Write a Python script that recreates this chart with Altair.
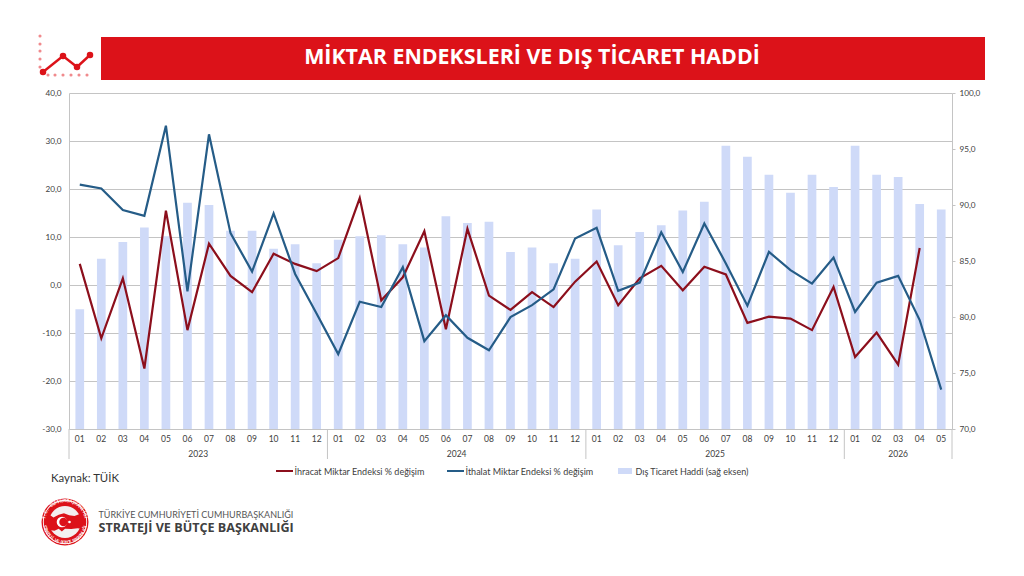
import math
import altair as alt
import pandas as pd

months = [f"{y}-{m:02d}" for y in (2023, 2024, 2025) for m in range(1, 13)] + [f"2026-{m:02d}" for m in range(1, 6)]

ihracat = [4.4, -11.1, 1.4, -17.4, 15.5, -9.4, 8.6, 1.9, -1.5, 6.5, 4.4, 2.9,
           5.6, 18.1, -3.2, 1.6, 11.2, -9.2, 11.7, -2.2, -5.2, -1.5, -4.6, 0.7,
           4.9, -4.2, 1.4, 4.0, -1.1, 3.8, 2.2, -7.9, -6.6, -7.0, -9.4, -0.4,
           -15.0, -9.9, -16.6, 7.7, None]
ithalat = [20.9, 20.1, 15.6, 14.4, 33.2, -1.3, 31.4, 10.8, 2.8, 14.9, 2.3, -6.0,
           -14.4, -3.5, -4.6, 3.7, -11.7, -6.3, -11.0, -13.6, -6.7, -4.2, -0.9, 9.7,
           11.9, -1.2, 0.5, 11.0, 2.7, 12.8, 4.5, -4.3, 6.9, 3.1, 0.3, 5.7,
           -5.6, 0.5, 1.9, -7.3, -21.8]
ticaret = [80.7, 85.2, 86.7, 88.0, 87.2, 90.2, 90.0, 87.7, 87.7, 86.1, 86.5, 84.8,
           86.9, 87.2, 87.3, 86.5, 86.2, 89.0, 88.4, 88.5, 85.8, 86.2, 84.8, 85.2,
           89.6, 86.4, 87.6, 88.2, 89.5, 90.3, 95.3, 94.3, 92.7, 91.1, 92.7, 91.6,
           95.3, 92.7, 92.5, 90.1, 89.6]

year_labels = ["2023", "2024", "2025", "2026"]
year_anchor = ["2023-06", "2024-06", "2025-06", "2026-03"]
year_shift = [1, 1, 1, 0.5]
separators = ["2024-01", "2025-01", "2026-01"]

TITLE = "MİKTAR ENDEKSLERİ VE DIŞ TİCARET HADDİ"
SERIES = ["İhracat Miktar Endeksi % değişim", "İthalat Miktar Endeksi % değişim", "Dış Ticaret Haddi (sağ eksen)"]

RED, BLUE, BAR, BANNER, GRID, TXT = "#8c0f1c", "#255c87", "#cfdaf8", "#dc1219", "#c4c4c4", "#404040"
PW, PH = 883, 336
OX, OY = 69, 93
BAND = PW / 41
FONT = "Lato"
TURKEY = ("M-1,-0.25 L-0.85,-0.38 L-0.7,-0.32 L-0.55,-0.22 L-0.3,-0.35 L-0.05,-0.42 L0.2,-0.32 L0.45,-0.28 "
          "L0.7,-0.38 L0.95,-0.3 L1,-0.05 L0.9,0.2 L0.95,0.35 L0.6,0.3 L0.3,0.33 L0,0.32 L-0.15,0.45 L-0.3,0.32 "
          "L-0.5,0.42 L-0.75,0.38 L-0.9,0.22 L-0.95,0 Z")

df = pd.DataFrame({"ay": months, "ihracat": ihracat, "ithalat": ithalat, "ticaret": ticaret})
xscale = alt.Scale(type="band", domain=months, paddingInner=0, paddingOuter=0)
one = alt.Data(values=[{"a": 1}])

def X(px): return alt.value(px - OX)
def Y(py): return alt.value(py - OY)

def rect(x0, y0, x1, y1, color, **kw):
    return alt.Chart(one).mark_rect(color=color, **kw).encode(x=X(x0), x2=X(x1), y=Y(y0), y2=Y(y1))
def seg(x0, y0, x1, y1, color, w):
    return alt.Chart(one).mark_rule(color=color, strokeWidth=w).encode(x=X(x0), x2=X(x1), y=Y(y0), y2=Y(y1))
def dot(x, y, size, color):
    return alt.Chart(one).mark_circle(color=color, size=size, opacity=1).encode(x=X(x), y=Y(y))
def text(x, y, s, size, color=TXT, align="left", weight="normal", font=FONT, angle=0):
    return alt.Chart(alt.Data(values=[{"t": s}])).mark_text(
        align=align, baseline="middle", fontSize=size, color=color, fontWeight=weight, font=font, angle=angle
    ).encode(x=X(x), y=Y(y), text="t:N")

bars = alt.Chart(df).mark_bar(size=8.7, color=BAR).encode(
    x=alt.X("ay:N", scale=xscale, axis=alt.Axis(
        title=None, labelExpr="slice(datum.value, 5)", labelAngle=0, labelFont=FONT, labelFontSize=8.5,
        labelColor=TXT, labelPadding=5, tickSize=0, domain=True, domainColor=GRID, grid=False)),
    y=alt.Y("ticaret:Q", scale=alt.Scale(domain=[70, 100], zero=False), axis=alt.Axis(
        orient="right", title=None, values=[70, 75, 80, 85, 90, 95, 100], grid=False,
        labelExpr="replace(format(datum.value, '.1f'), '.', ',')", labelFont=FONT, labelFontSize=8.2,
        labelColor=TXT, tickColor=GRID, tickSize=3, labelPadding=4, domainColor=GRID)),
    y2=alt.datum(70),
)

yleft = alt.Y("v:Q", scale=alt.Scale(domain=[-30, 40]), axis=alt.Axis(
    orient="left", title=None, values=list(range(-30, 50, 10)), grid=True, gridColor=GRID, gridWidth=1.1,
    labelExpr="replace(replace(format(datum.value, '.1f'), '.', ','), '−', '-')", labelFont=FONT,
    labelFontSize=8.2, labelColor=TXT, tickSize=0, labelPadding=8, domainColor=GRID))
long = pd.DataFrame({"ay": months * 2, "v": ihracat + ithalat,
                     "seri": [SERIES[0]] * 41 + [SERIES[1]] * 41}).dropna()
lines = alt.Chart(long).mark_line(strokeWidth=2.2, strokeJoin="miter").encode(
    x=alt.X("ay:N", scale=xscale),
    y=yleft,
    color=alt.Color("seri:N", scale=alt.Scale(domain=SERIES[:2], range=[RED, BLUE]), legend=None),
)

data_layer = alt.layer(bars, lines).resolve_scale(y="independent")

years = pd.DataFrame({"ay": year_anchor, "t": year_labels, "d": [s * BAND for s in year_shift]})
year_text = alt.Chart(years).mark_text(fontSize=8.5, font=FONT, color=TXT, baseline="middle").encode(
    x=alt.X("ay:N", scale=xscale), xOffset=alt.XOffset("d:Q", scale=None), y=alt.value(454 - OY), text="t:N")
seps = alt.Chart(pd.DataFrame({"ay": separators, "d": [0] * 3})).mark_rule(color=GRID, strokeWidth=1).encode(
    x=alt.X("ay:N", scale=xscale), xOffset=alt.XOffset("d:Q", scale=None), y=alt.value(PH), y2=alt.value(459 - OY))

deco = [
    seg(OX, 429, OX, 459, GRID, 1), seg(OX + PW, 429, OX + PW, 459, GRID, 1),
    rect(101, 37, 985, 80, BANNER),
    text(532, 57.5, TITLE, 21.4, color="white", align="center", weight="bold", font="Open Sans"),
    seg(276, 471, 293, 471, RED, 2), text(294.5, 471.5, SERIES[0], 9.0),
    seg(447, 471, 464, 471, BLUE, 2), text(465.5, 471.5, SERIES[1], 9.0),
    rect(618, 468, 632, 474, BAR), text(635.5, 471.5, SERIES[2], 9.0),
    text(51, 479, "Kaynak: TÜİK", 11.4, color="#333333"),
    text(98.5, 514.5, "TÜRKİYE CUMHURİYETİ CUMHURBAŞKANLIĞI", 9.0, color="#555555"),
    text(98.5, 527.5, "STRATEJİ VE BÜTÇE BAŞKANLIĞI", 12.6, color="#404040", weight="bold", font="Open Sans"),
]
# small chart icon
for y in (36, 44, 51, 59, 67):
    deco.append(dot(40, y, 10, "#f08a8d"))
for x in (48, 55, 63, 71, 79, 87):
    deco.append(dot(x, 75, 10, "#f08a8d"))
pts = [(43, 72), (63, 56), (77, 67), (90, 55)]
for a, b in zip(pts, pts[1:]):
    deco.append(seg(a[0], a[1], b[0], b[1], BANNER, 2.4))
for p in pts:
    deco.append(dot(p[0], p[1], 42, BANNER))

# emblem
CX, CY = 65, 522
area = lambda r: math.pi * r * r
deco += [dot(CX, CY, area(26.5), BANNER), dot(CX, CY, area(25), "white"), dot(CX, CY, area(24), BANNER),
         dot(CX, CY, area(18), "#f3efef")]
deco.append(alt.Chart(one).mark_point(shape=TURKEY, filled=True, color=BANNER, opacity=1, size=(2 * 21) ** 2).encode(x=X(CX), y=Y(CY)))
deco += [dot(CX - 3, CY, area(6), "white"), dot(CX - 1.5, CY, area(4.8), BANNER), dot(CX + 4.5, CY, area(1.5), "white")]

def ring(s, start, end, radius, flip):
    out = []
    n = len(s)
    for i, ch in enumerate(s):
        if ch == " ":
            continue
        deg = start + (end - start) * i / (n - 1)
        a = math.radians(deg)
        px, py = CX + radius * math.sin(a), CY - radius * math.cos(a)
        rot = (deg + 180) % 360 if flip else deg % 360
        out.append(text(px, py, ch, 4.4, color="white", align="center", weight="bold", angle=rot))
    return out

deco += ring("T.C. CUMHURBAŞKANLIĞI", -78, 78, 21, False)
deco += ring("STRATEJİ VE BÜTÇE BAŞKANLIĞI", 258, 102, 21, True)

chart = alt.layer(data_layer, seps, year_text, *deco).properties(
    width=PW, height=PH,
    autosize=alt.AutoSizeParams(type="none"),
    padding={"left": OX - 8, "top": OY - 8, "right": 1016 - OX - PW, "bottom": 568 - OY - PH},
    background="white",
).configure_view(stroke=None)

chart.save("out.html", embed_options={"renderer": "svg", "actions": False})
